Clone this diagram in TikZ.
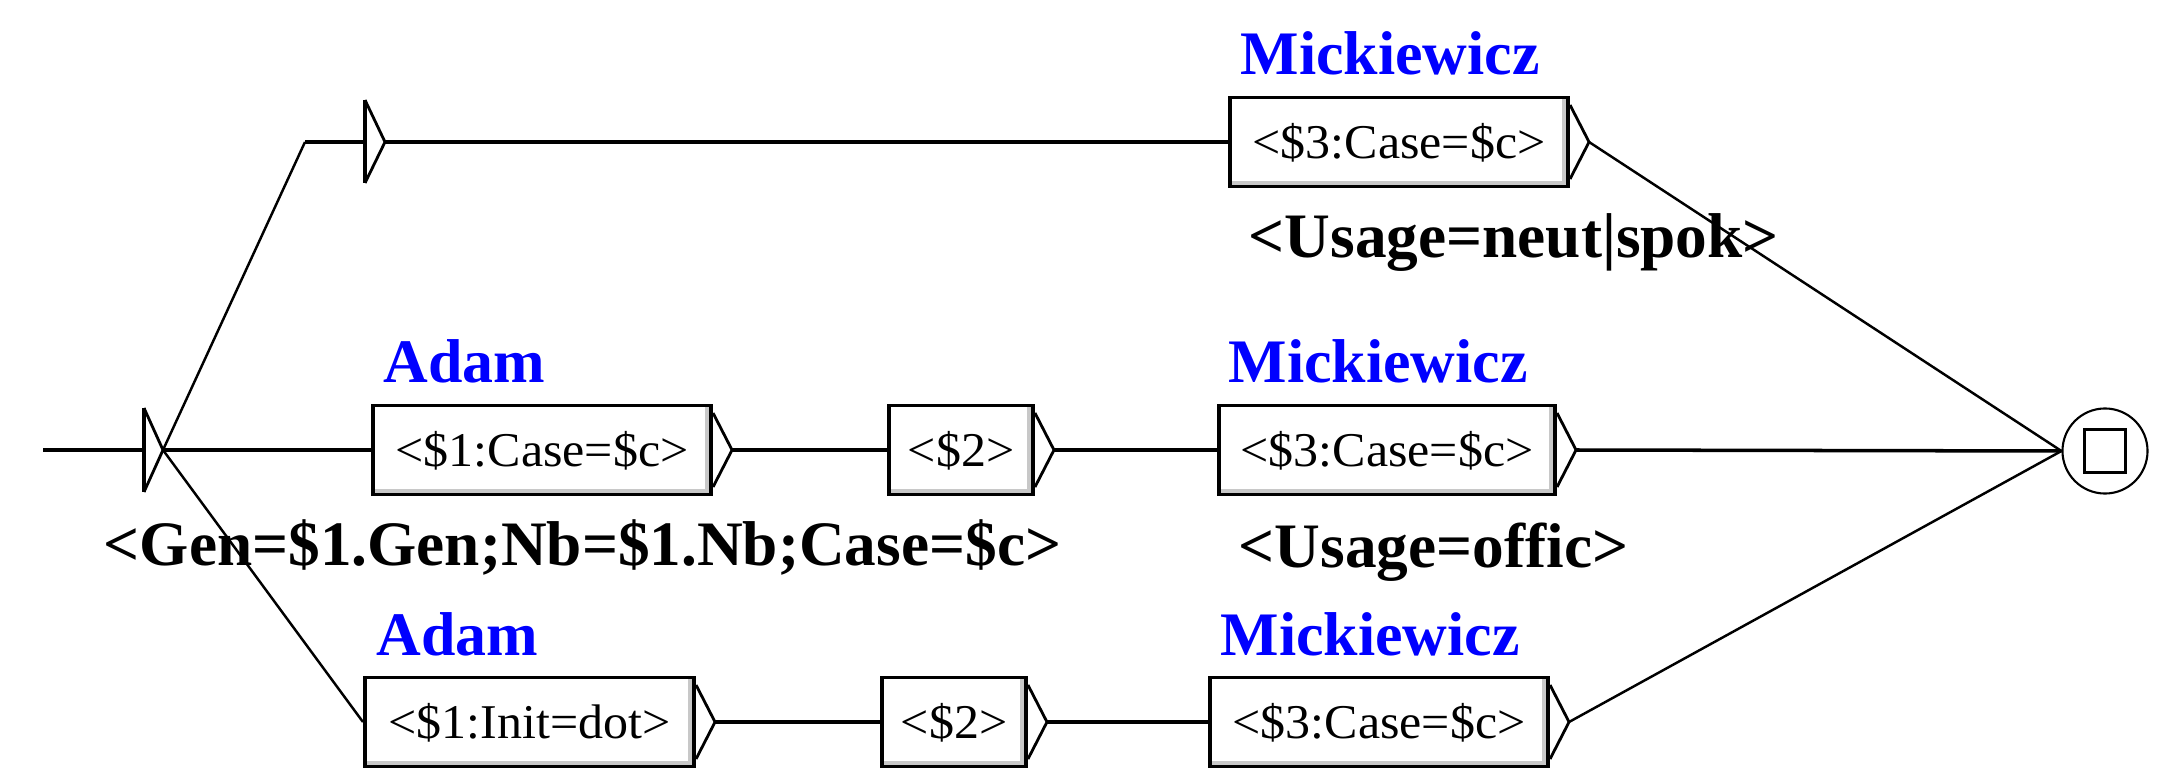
\documentclass[tikz,border=0pt]{standalone}
\usepackage{fontspec}
\setmainfont{Liberation Serif}
\newfontfamily\boxfont[FakeStretch=1.03]{Liberation Serif}
\usetikzlibrary{calc}
\definecolor{lblue}{RGB}{0,0,255}
\definecolor{shadowgray}{RGB}{200,200,200}
\tikzset{
  box/.style={draw, line width=1.1pt, inner sep=0pt, minimum height=0.89cm,
    text height=0.32cm, text depth=0pt,
    font=\boxfont\fontsize{13.8}{15}\selectfont,
    path picture={
      \fill[shadowgray] ([yshift=0.02cm]path picture bounding box.south west) rectangle ([xshift=-0.02cm,yshift=0.06cm]path picture bounding box.south east);
      \fill[shadowgray] ([xshift=-0.06cm,yshift=0.02cm]path picture bounding box.south east) rectangle ([xshift=-0.02cm,yshift=-0.02cm]path picture bounding box.north east);
    }},
  lbl/.style={font=\bfseries\fontsize{18}{20}\selectfont, inner sep=0pt, anchor=base west},
  blbl/.style={lbl, font=\bfseries\fontsize{17.6}{20}\selectfont, text=lblue},
  hline/.style={line width=1pt},
  dline/.style={line width=0.7pt},
  tri/.style={line width=0.8pt, line join=miter},
  bar/.style={line width=1.1pt}
}
\begin{document}
\begin{tikzpicture}[x=0.01cm,y=-0.01cm]
\useasboundingbox (0,0) rectangle (2160,776);

% boxes
\node[box, minimum width=3.38cm] (t3) at (1399,142) {<\$3:Case=\$c>};
\node[box, minimum width=3.38cm] (m1) at (542,450) {<\$1:Case=\$c>};
\node[box, minimum width=1.44cm] (m2) at (961,450) {<\$2>};
\node[box, minimum width=3.36cm] (m3) at (1387,450) {<\$3:Case=\$c>};
\node[box, minimum width=3.29cm] (b1) at (529.5,722) {<\$1:Init=dot>};
\node[box, minimum width=1.44cm] (b2) at (954,722) {<\$2>};
\node[box, minimum width=3.38cm] (b3) at (1379,722) {<\$3:Case=\$c>};

% output triangles of boxes
\foreach \n in {t3,m1,m2,m3,b1,b2,b3}{
  \coordinate (\n-o) at ($(\n.east)+(19,0)$);
  \draw[tri] ($(\n.east)+(0,-37)$) -- (\n-o) -- ($(\n.east)+(0,37)$);
}

% initial state
\coordinate (in) at (43,450);
\coordinate (i1) at (144,450);
\coordinate (i0) at (163,450);
\draw[bar] (144,408) -- (144,492);
\draw[tri] (144,408) -- (i0) -- (144,492);

% empty node
\coordinate (j) at (305,142);
\coordinate (e1) at (365,142);
\coordinate (e0) at (385,142);
\draw[bar] (365,100) -- (365,183);
\draw[tri] (365,100) -- (e0) -- (365,183);

% final state
\node[draw, circle, line width=0.6pt, minimum size=0.85cm, inner sep=0pt] (fin) at (2105,451) {};
\node[draw, line width=1.1pt, minimum width=0.41cm, minimum height=0.43cm, inner sep=0pt] (finsq) at (fin.center) {};

% connectors
\draw[hline] (in) -- (i1);
\draw[hline] (i0) -- (m1.west);
\draw[dline] (i0) -- (j);
\draw[hline] (j) -- (e1);
\draw[hline] (e0) -- (t3.west);
\draw[dline] (i0) -- (b1.west);
\draw[hline] (m1-o) -- (m2.west);
\draw[hline] (m2-o) -- (m3.west);
\draw[hline] (m3-o) -- (fin.west);
\draw[hline] (b1-o) -- (b2.west);
\draw[hline] (b2-o) -- (b3.west);
\draw[dline] (b3-o) -- (fin.west);
\draw[dline] (t3-o) -- (fin.west);

% labels
\node[blbl] (lt3) at (1240,75) {Mickiewicz};
\node[lbl] (ut3) at (1248,258) {<Usage=neut|spok>};
\node[blbl] (lm1) at (383,383) {Adam};
\node[blbl] (lm3) at (1228,383) {Mickiewicz};
\node[lbl] (gen) at (103,565) {<Gen=\$1.Gen;Nb=\$1.Nb;Case=\$c>};
\node[lbl] (um3) at (1238,567) {<Usage=offic>};
\node[blbl] (lb1) at (376,655) {Adam};
\node[blbl] (lb3) at (1220,655) {Mickiewicz};
\end{tikzpicture}
\end{document}
